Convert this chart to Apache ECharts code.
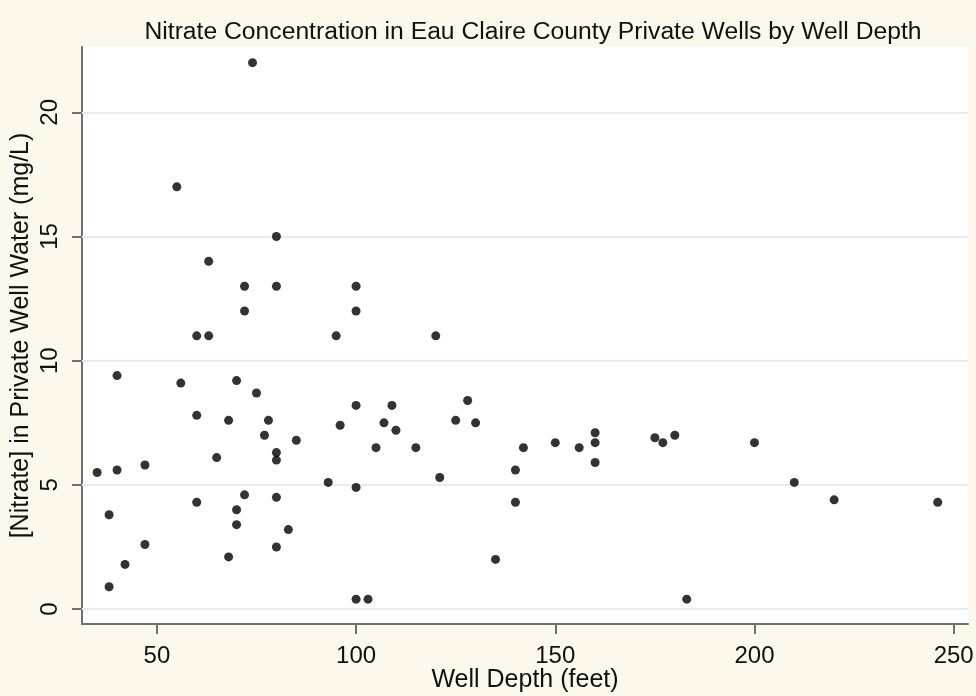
<!DOCTYPE html>
<html>
<head>
<meta charset="utf-8">
<script src="https://cdn.jsdelivr.net/npm/echarts@6/dist/echarts.min.js"></script>
<style>
html,body{margin:0;padding:0;background:#fdf8ec;}
#chart{width:976px;height:696px;}
</style>
</head>
<body>
<div id="chart"></div>
<script>
// Well depth (feet)
const wellDepth = [
  74, 55, 80, 63, 72, 80, 72, 60, 63,
  40, 56, 70, 75, 60, 68, 78, 77, 85, 80, 80, 65,
  35, 40, 47, 93, 60, 72, 80, 70, 70, 38, 83, 47, 80, 68, 42, 38,
  100, 100, 95, 120, 100, 109, 96, 107, 110, 105, 115, 128, 125, 130,
  121, 100, 140, 140, 142, 150, 156, 160, 160, 160, 135, 100, 103,
  175, 177, 180, 200, 210, 220, 246, 183
];
// [Nitrate] in private well water (mg/L)
const nitrate = [
  22, 17, 15, 14, 13, 13, 12, 11, 11,
  9.4, 9.1, 9.2, 8.7, 7.8, 7.6, 7.6, 7.0, 6.8, 6.3, 6.0, 6.1,
  5.5, 5.6, 5.8, 5.1, 4.3, 4.6, 4.5, 4.0, 3.4, 3.8, 3.2, 2.6, 2.5, 2.1, 1.8, 0.9,
  13, 12, 11, 11, 8.2, 8.2, 7.4, 7.5, 7.2, 6.5, 6.5, 8.4, 7.6, 7.5,
  5.3, 4.9, 5.6, 4.3, 6.5, 6.7, 6.5, 7.1, 6.7, 5.9, 2.0, 0.4, 0.4,
  6.9, 6.7, 7.0, 6.7, 5.1, 4.4, 4.3, 0.4
];
const xTicks = [50, 100, 150, 200, 250];
const yTicks = [0, 5, 10, 15, 20];

const titleText = 'Nitrate Concentration in Eau Claire County Private Wells by Well Depth';
const xName = 'Well Depth (feet)';
const yName = '[Nitrate] in Private Well Water (mg/L)';

const FONT = "'Liberation Sans', Arial, sans-serif";

const points = wellDepth.map((d, i) => [d, nitrate[i]]);

const chart = echarts.init(document.getElementById('chart'), null, {renderer: 'canvas'});
chart.setOption({
  backgroundColor: '#fdf8ec',
  animation: false,
  title: {
    text: titleText,
    left: 528,
    top: 15,
    textAlign: 'center',
    textStyle: {fontFamily: FONT, fontSize: 24.7, fontWeight: 'normal', color: '#111'}
  },
  grid: {
    left: 82, right: 8, top: 47, bottom: 72,
    containLabel: false,
    outerBoundsMode: 'none',
    show: true, backgroundColor: '#ffffff', borderWidth: 0
  },
  xAxis: {
    type: 'value',
    min: 31.2, max: 253.6,
    name: xName,
    nameLocation: 'middle',
    nameGap: 44,
    nameMoveOverlap: false,
    nameTextStyle: {fontFamily: FONT, fontSize: 25, color: '#111'},
    axisLine: {show: true, onZero: false, lineStyle: {color: '#707070', width: 2}},
    axisTick: {show: true, length: 10, customValues: xTicks, lineStyle: {color: '#707070', width: 2}},
    axisLabel: {customValues: xTicks, margin: 20, fontFamily: FONT, fontSize: 24, color: '#111'},
    splitLine: {show: false}
  },
  yAxis: {
    type: 'value',
    min: -0.6, max: 22.63,
    name: yName,
    nameLocation: 'middle',
    nameGap: 48,
    nameRotate: 90,
    nameMoveOverlap: false,
    nameTextStyle: {fontFamily: FONT, fontSize: 25, color: '#111'},
    axisLine: {show: true, onZero: false, lineStyle: {color: '#707070', width: 2}},
    axisTick: {show: true, length: 10, customValues: yTicks, lineStyle: {color: '#707070', width: 2}},
    axisLabel: {customValues: yTicks, rotate: 90, margin: 20, fontFamily: FONT, fontSize: 24, color: '#111'},
    splitLine: {show: false}
  },
  series: [{
    type: 'scatter',
    data: points,
    symbol: 'circle',
    symbolSize: 9,
    itemStyle: {color: '#000'},
    z: 3,
    markLine: {
      silent: true,
      symbol: 'none',
      label: {show: false},
      lineStyle: {color: '#e3eef0', width: 2, type: 'solid'},
      z: 1,
      data: yTicks.map(v => ({yAxis: v}))
    }
  }]
});
</script>
</body>
</html>
